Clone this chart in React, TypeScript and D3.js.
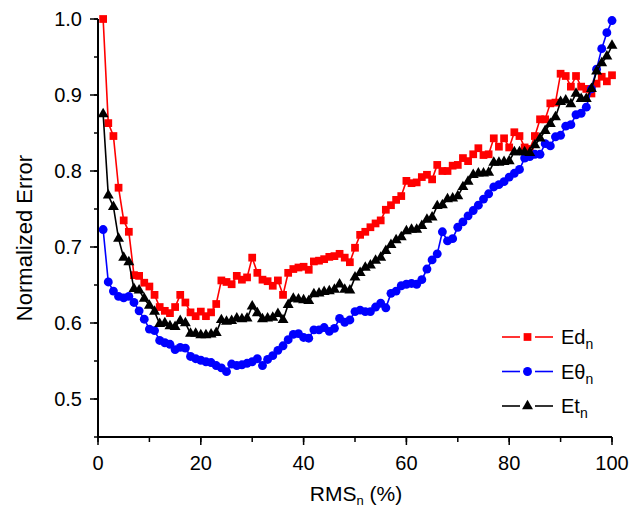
import React from 'react';
import * as d3 from 'd3';

// x positions 1..100 (RMS_n %)
const rmsN = d3.range(1, 101);

const edN = [
  1.0, 0.863, 0.846, 0.778, 0.735, 0.72, 0.663, 0.662, 0.653, 0.648,
  0.637, 0.621, 0.616, 0.613, 0.621, 0.637, 0.627, 0.614, 0.609, 0.615,
  0.609, 0.614, 0.625, 0.656, 0.654, 0.651, 0.662, 0.657, 0.66, 0.686,
  0.666, 0.657, 0.655, 0.649, 0.656, 0.637, 0.666, 0.671, 0.673, 0.674,
  0.67, 0.681, 0.682, 0.684, 0.687, 0.688, 0.691, 0.686, 0.68, 0.699,
  0.716, 0.72, 0.726, 0.731, 0.735, 0.749, 0.755, 0.762, 0.767, 0.787,
  0.784, 0.785, 0.792, 0.795, 0.789, 0.808, 0.8, 0.8, 0.807, 0.808,
  0.817, 0.813, 0.822, 0.83, 0.821, 0.822, 0.843, 0.832, 0.843, 0.831,
  0.851, 0.846, 0.831, 0.829, 0.846, 0.868, 0.868, 0.889, 0.89, 0.928,
  0.925, 0.911, 0.925, 0.911, 0.908, 0.902, 0.915, 0.924, 0.918, 0.926,
];

const ethetaN = [
  0.723, 0.654, 0.642, 0.635, 0.633, 0.635, 0.627, 0.616, 0.605, 0.592,
  0.59, 0.577, 0.574, 0.572, 0.565, 0.568, 0.567, 0.556, 0.553, 0.551,
  0.549, 0.548, 0.544, 0.541, 0.536, 0.546, 0.544, 0.545, 0.547, 0.549,
  0.553, 0.544, 0.552, 0.557, 0.564, 0.57, 0.578, 0.585, 0.586, 0.581,
  0.58, 0.591, 0.591, 0.594, 0.589, 0.593, 0.606, 0.601, 0.604, 0.615,
  0.617, 0.615, 0.615, 0.621, 0.626, 0.62, 0.639, 0.642, 0.649, 0.651,
  0.652, 0.651, 0.657, 0.671, 0.683, 0.691, 0.72, 0.708, 0.711, 0.726,
  0.733, 0.741, 0.748, 0.755, 0.763, 0.77, 0.779, 0.782, 0.786, 0.792,
  0.797, 0.802, 0.817, 0.819, 0.822, 0.822, 0.836, 0.833, 0.845, 0.847,
  0.859, 0.861, 0.874, 0.876, 0.884, 0.908, 0.934, 0.961, 0.982, 0.998,
];

const etN = [
  0.875, 0.768, 0.753, 0.711, 0.686, 0.68, 0.645, 0.643, 0.632, 0.623,
  0.615, 0.599, 0.6, 0.596, 0.595, 0.603, 0.6, 0.586, 0.586, 0.584,
  0.584, 0.585, 0.587, 0.604, 0.602, 0.603, 0.606, 0.605, 0.606, 0.622,
  0.613, 0.605, 0.606, 0.607, 0.612, 0.604, 0.624, 0.632, 0.631, 0.63,
  0.629, 0.638, 0.639, 0.641, 0.642, 0.644, 0.651, 0.644, 0.643, 0.66,
  0.666, 0.673, 0.676, 0.682, 0.686, 0.695, 0.703, 0.709, 0.713, 0.721,
  0.723, 0.723, 0.728, 0.736, 0.739, 0.754, 0.755, 0.763, 0.764, 0.767,
  0.779, 0.786, 0.795, 0.797, 0.797, 0.798, 0.811, 0.811, 0.812, 0.813,
  0.825, 0.825, 0.825, 0.824, 0.834, 0.843, 0.853, 0.862, 0.871, 0.891,
  0.893, 0.888, 0.902, 0.895, 0.895, 0.908, 0.931, 0.942, 0.951, 0.965,
];

const xTicks = [0, 20, 40, 60, 80, 100];
const yTicks = [0.5, 0.6, 0.7, 0.8, 0.9, 1.0];

const width = 641;
const height = 509;
const font = '"Liberation Sans", Arial, sans-serif';

const series = [
  { name: 'Ed', values: edN, color: '#ff0000', symbol: d3.symbolSquare, size: 60 },
  { name: 'Eθ', values: ethetaN, color: '#0000ff', symbol: d3.symbolCircle, size: 62 },
  { name: 'Et', values: etN, color: '#000000', symbol: d3.symbolTriangle, size: 52 },
];

export default function App() {
  const x = d3.scaleLinear().domain([0, 100]).range([98, 612]);
  const y = d3.scaleLinear().domain([0.45, 1.0]).range([437, 19]);

  const line = d3
    .line<number>()
    .x((d, i) => x(rmsN[i]))
    .y((d) => y(d));

  const xMinor = d3.range(0, 101, 10);
  const yMinor = d3.range(0.45, 1.0001, 0.05);

  return (
    <svg
      width={width}
      height={height}
      style={{ position: 'absolute', left: 0, top: 0, background: '#fff' }}
      fontFamily={font}
    >
      {/* data */}
      {series.map((s) => (
        <g key={s.name}>
          <path d={line(s.values) || ''} fill="none" stroke={s.color} strokeWidth={1.6} />
          {s.values.map((v, i) => (
            <path
              key={i}
              d={d3.symbol().type(s.symbol).size(s.size)() || ''}
              transform={`translate(${x(rmsN[i])},${y(v)})`}
              fill={s.color}
            />
          ))}
        </g>
      ))}

      {/* y axis */}
      <line x1={x(0)} x2={x(0)} y1={y(1.0)} y2={y(0.45)} stroke="#000" strokeWidth={2} />
      {yMinor.map((t) => (
        <line key={t} x1={x(0) - 4} x2={x(0)} y1={y(t)} y2={y(t)} stroke="#000" strokeWidth={1.5} />
      ))}
      {yTicks.map((t) => (
        <g key={t}>
          <line x1={x(0) - 8} x2={x(0)} y1={y(t)} y2={y(t)} stroke="#000" strokeWidth={1.5} />
          <text x={x(0) - 16} y={y(t)} dy="0.36em" textAnchor="end" fontSize={20}>
            {d3.format('.1f')(t)}
          </text>
        </g>
      ))}

      {/* x axis */}
      <line x1={x(0) - 1} x2={x(100)} y1={y(0.45)} y2={y(0.45)} stroke="#000" strokeWidth={2} />
      {xMinor.map((t) => (
        <line key={t} x1={x(t)} x2={x(t)} y1={y(0.45)} y2={y(0.45) + 5} stroke="#000" strokeWidth={1.5} />
      ))}
      {xTicks.map((t) => (
        <g key={t}>
          <line x1={x(t)} x2={x(t)} y1={y(0.45)} y2={y(0.45) + 8} stroke="#000" strokeWidth={1.5} />
          <text x={x(t)} y={y(0.45) + 26} dy="0.36em" textAnchor="middle" fontSize={20}>
            {t}
          </text>
        </g>
      ))}

      {/* axis titles */}
      <text x={356} y={501} textAnchor="middle" fontSize={21}>
        RMS
        <tspan fontSize={13} dy={4}>n</tspan>
        <tspan dy={-4}> (%)</tspan>
      </text>
      <text
        transform={`translate(32,238) rotate(-90)`}
        textAnchor="middle"
        fontSize={22}
      >
        Normalized Error
      </text>

      {/* legend */}
      {series.map((s, i) => {
        const ly = 337 + i * 34.5;
        return (
          <g key={s.name}>
            <line x1={502} x2={520} y1={ly} y2={ly} stroke={s.color} strokeWidth={1.6} />
            <line x1={535} x2={553} y1={ly} y2={ly} stroke={s.color} strokeWidth={1.6} />
            <path
              d={d3.symbol().type(s.symbol).size(s.size)() || ''}
              transform={`translate(527.5,${ly})`}
              fill={s.color}
            />
            <text x={561} y={ly} dy="0.36em" fontSize={20}>
              {s.name}
              <tspan fontSize={14} dy={5}>n</tspan>
            </text>
          </g>
        );
      })}
    </svg>
  );
}
